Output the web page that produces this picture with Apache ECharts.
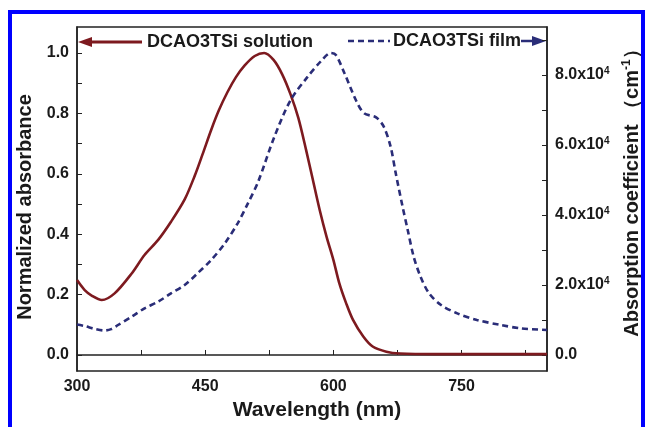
<!DOCTYPE html>
<html>
<head>
<meta charset="utf-8">
<script src="https://cdn.jsdelivr.net/npm/echarts@6/dist/echarts.min.js"></script>
<style>
  html, body { margin: 0; padding: 0; background: #fff; }
  #myChart1 { width: 645px; height: 427px; }
</style>
</head>
<body>
<div id="myChart1"></div>
<script>
// solution spectrum (normalized, left axis)
var solutionNm = [300, 309, 318, 329, 344, 364, 379, 395, 410, 426, 438, 447, 457, 466, 476, 486, 496, 508, 519, 530, 540, 550, 559, 568, 576, 584, 592, 600, 607, 615, 623, 635, 646, 662, 678, 720, 780, 850];
var solutionAbs = [0.248, 0.215, 0.195, 0.182, 0.204, 0.27, 0.331, 0.381, 0.441, 0.515, 0.595, 0.665, 0.745, 0.81, 0.87, 0.92, 0.958, 0.99, 1.0, 0.977, 0.93, 0.862, 0.785, 0.68, 0.58, 0.48, 0.392, 0.315, 0.237, 0.171, 0.116, 0.061, 0.028, 0.011, 0.005, 0.003, 0.003, 0.003];

// film spectrum (absorption coefficient, right axis)
var filmNm = [300, 310, 320, 332, 340, 348, 364, 379, 395, 410, 426, 441, 457, 473, 488, 500, 512, 531, 550, 570, 585, 597, 603, 613, 627, 636, 650, 659, 667, 673, 681, 687, 694, 702, 712, 726, 745, 768, 796, 819, 850];
var filmCoef = [8700, 8200, 7500, 7000, 7400, 8571, 10952, 13333, 15238, 17619, 20000, 23333, 27143, 31905, 37619, 43333, 49500, 62381, 72857, 79524, 83810, 86300, 85714, 80500, 72500, 69048, 67905, 65238, 59524, 51905, 42381, 35714, 28095, 22381, 17619, 14286, 11905, 10000, 8571, 7619, 7143];

var xTicks = [300, 375, 450, 525, 600, 675, 750, 825];
var xLabels = [300, 450, 600, 750];
var leftTicks = [0, 0.1, 0.2, 0.3, 0.4, 0.5, 0.6, 0.7, 0.8, 0.9, 1.0];
var leftLabels = [0, 0.2, 0.4, 0.6, 0.8, 1.0];
var rightTicks = [0, 10000, 20000, 30000, 40000, 50000, 60000, 70000, 80000, 90000];
var rightLabels = [0, 20000, 40000, 60000, 80000];

var solutionData = solutionNm.map(function (x, i) { return [x, solutionAbs[i]]; });
var filmData = filmNm.map(function (x, i) { return [x, filmCoef[i]]; });

var FONT = "'Liberation Sans', Arial, sans-serif";
var TXT = "#1a1a1a";
var RED = "#7d1a1f";
var NAVY = "#2a2d78";

var chartDom = document.getElementById("myChart1");
var myChart = echarts.init(chartDom);
var option;

option = {
  backgroundColor: "#fff",
  animation: false,
  grid: {
    left: 77,
    right: 98,
    top: 27,
    bottom: 56,
    containLabel: false,
    outerBoundsMode: "none",
    show: true,
    borderColor: "#222",
    borderWidth: 1.5,
  },
  xAxis: {
    type: "value",
    min: 300,
    max: 850,
    interval: 150,
    name: "Wavelength (nm)",
    nameLocation: "middle",
    nameGap: 25,
    nameTextStyle: {
      color: TXT, fontFamily: FONT, fontWeight: "bold", fontSize: 21,
      padding: [0, 0, 0, 10],
    },
    axisLine: { lineStyle: { color: "#222", width: 1.5 } },
    axisTick: { inside: true, length: 5, customValues: xTicks, lineStyle: { color: "#222" } },
    axisLabel: { customValues: xLabels, color: TXT, fontFamily: FONT, fontWeight: "bold", fontSize: 16, margin: 8 },
    splitLine: { show: false },
  },
  yAxis: [
    {
      type: "value",
      min: -0.053,
      max: 1.086,
      name: "Normalized absorbance",
      nameLocation: "middle",
      nameRotate: 90,
      nameGap: 36,
      nameTextStyle: {
        color: TXT, fontFamily: FONT, fontWeight: "bold", fontSize: 20,
        padding: [0, 16, 0, 0],
      },
      axisLine: { show: true, lineStyle: { color: "#222", width: 1.5 } },
      axisTick: { show: true, inside: true, length: 5, customValues: leftTicks, lineStyle: { color: "#222" } },
      axisLabel: {
        customValues: leftLabels,
        color: TXT, fontFamily: FONT, fontWeight: "bold", fontSize: 16, margin: 8,
        formatter: function (v) { return v.toFixed(1); },
      },
      splitLine: { show: false },
    },
    {
      type: "value",
      position: "right",
      min: -4571,
      max: 93714,
      name: "{t|Absorption coefficient （cm}{s|-1}{t|）}",
      nameLocation: "middle",
      nameRotate: 90,
      nameGap: 72,
      nameTextStyle: {
        color: TXT, fontFamily: FONT, fontWeight: "bold", fontSize: 20,
        padding: [0, 0, 0, 22],
        rich: {
          t: { color: TXT, fontFamily: FONT, fontWeight: "bold", fontSize: 20, lineHeight: 22, verticalAlign: "bottom" },
          s: { color: TXT, fontFamily: FONT, fontWeight: "bold", fontSize: 12, lineHeight: 22, verticalAlign: "top" },
        },
      },
      axisLine: { show: true, lineStyle: { color: "#222", width: 1.5 } },
      axisTick: { show: true, inside: true, length: 5, customValues: rightTicks, lineStyle: { color: "#222" } },
      axisLabel: {
        customValues: rightLabels,
        color: TXT, fontFamily: FONT, fontWeight: "bold", fontSize: 16, margin: 8,
        formatter: function (v) {
          if (v === 0) return "{m|0.0}";
          return "{m|" + (v / 10000).toFixed(1) + "x10}{e|4}";
        },
        rich: {
          m: { color: TXT, fontFamily: FONT, fontWeight: "bold", fontSize: 16, lineHeight: 17 },
          e: { color: TXT, fontFamily: FONT, fontWeight: "bold", fontSize: 10, lineHeight: 17, verticalAlign: "top" },
        },
      },
      splitLine: { show: false },
    },
  ],
  series: [
    {
      name: "DCAO3TSi solution",
      type: "line",
      yAxisIndex: 0,
      data: solutionData,
      smooth: 0.3,
      showSymbol: false,
      lineStyle: { color: RED, width: 2.6 },
    },
    {
      name: "DCAO3TSi film",
      type: "line",
      yAxisIndex: 1,
      data: filmData,
      smooth: 0.3,
      showSymbol: false,
      lineStyle: { color: NAVY, width: 2.6, type: [6, 4] },
    },
  ],
  graphic: [
    // legend: solution -> left axis
    { type: "polygon", shape: { points: [[78, 42], [92, 37], [92, 47]] }, style: { fill: RED } },
    { type: "line", shape: { x1: 90, y1: 42, x2: 142, y2: 42 }, style: { stroke: RED, lineWidth: 3 } },
    { type: "text", style: { text: "DCAO3TSi solution", x: 147, y: 42, verticalAlign: "middle", fill: TXT, font: "bold 18px " + FONT } },
    // legend: film -> right axis
    { type: "line", shape: { x1: 348, y1: 41, x2: 390, y2: 41 }, style: { stroke: NAVY, lineWidth: 2.6, lineDash: [6, 4] } },
    { type: "text", style: { text: "DCAO3TSi film", x: 393, y: 41, verticalAlign: "middle", fill: TXT, font: "bold 18px " + FONT } },
    { type: "line", shape: { x1: 521, y1: 41, x2: 534, y2: 41 }, style: { stroke: NAVY, lineWidth: 2.5 } },
    { type: "polygon", shape: { points: [[532, 36], [546, 41], [532, 46]] }, style: { fill: NAVY } },
    // blue frame around the figure
    { type: "rect", z: 100, shape: { x: 10, y: 12, width: 633, height: 440 }, style: { fill: "none", stroke: "#0000ff", lineWidth: 4 } },
  ],
};

option && myChart.setOption(option);
</script>
</body>
</html>
